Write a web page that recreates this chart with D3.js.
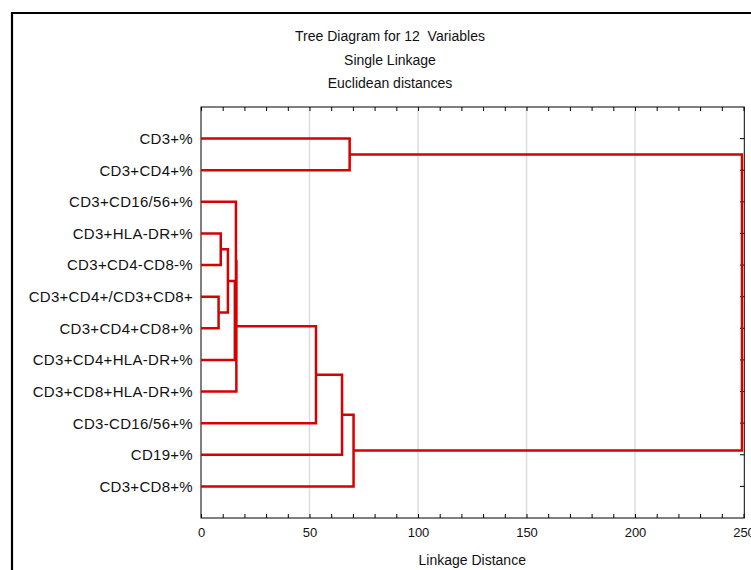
<!DOCTYPE html>
<html>
<head>
<meta charset="utf-8">
<script src="https://cdnjs.cloudflare.com/ajax/libs/d3/7.8.5/d3.min.js"></script>
<style>
  body { margin: 0; background: #fff; }
  svg { display: block; font-family: "Liberation Sans", Arial, sans-serif; }
  text { white-space: pre; }
</style>
</head>
<body>
<svg id="chart" width="751" height="570"></svg>
<script>
// leaves, top to bottom as shown
var leaves = ["CD3+%", "CD3+CD4+%", "CD3+CD16/56+%", "CD3+HLA-DR+%", "CD3+CD4-CD8-%",
  "CD3+CD4+/CD3+CD8+", "CD3+CD4+CD8+%", "CD3+CD4+HLA-DR+%", "CD3+CD8+HLA-DR+%",
  "CD3-CD16/56+%", "CD19+%", "CD3+CD8+%"];

// joins: ids 0..11 are leaves, each join gets id 12, 13, ...
var joinLeft   = [5, 3, 13, 14, 2, 16, 17, 18, 0, 19, 20];
var joinRight  = [6, 4, 12, 7, 15, 8, 9, 10, 1, 11, 21];
var joinHeight = [8.1, 9.1, 12.4, 15.6, 16.1, 16.3, 53.0, 65.0, 68.5, 70.3, 249.3];

var titleLines = ["Tree Diagram for 12  Variables", "Single Linkage", "Euclidean distances"];
var xTicks = d3.range(0, 251, 10);
var xLabels = [0, 50, 100, 150, 200, 250];
var xTitle = "Linkage Distance";

(function () {
  var svg = d3.select("#chart");
  var pLeft = 201, pRight = 743.5, pTop = 107, pBottom = 518;
  var red = "#d60000";

  var x = d3.scaleLinear().domain([0, 250]).range([pLeft, pRight]);
  var y = d3.scalePoint().domain(d3.range(leaves.length)).range([pTop, pBottom]).padding(1);

  // outer frame
  svg.append("path")
    .attr("d", "M12,575 V13 H760")
    .attr("fill", "none").attr("stroke", "#000").attr("stroke-width", 2.2);

  // titles
  svg.selectAll(".title").data(titleLines).enter().append("text")
    .attr("class", "title")
    .attr("x", 390).attr("y", function (d, i) { return 41 + i * 23.5; })
    .attr("text-anchor", "middle").attr("font-size", 14).attr("fill", "#111")
    .text(function (d) { return d; });

  // grid
  svg.selectAll(".grid").data([50, 100, 150, 200]).enter().append("line")
    .attr("x1", x).attr("x2", x).attr("y1", pTop).attr("y2", pBottom)
    .attr("stroke", "#dcdcdc").attr("stroke-width", 1.5);

  // frame of plot
  svg.append("rect")
    .attr("x", pLeft).attr("y", pTop).attr("width", x(250) - pLeft + 0.8).attr("height", pBottom - pTop)
    .attr("fill", "none").attr("stroke", "#000").attr("stroke-width", 1);

  // bottom axis
  var bottomAxis = svg.append("g").attr("transform", "translate(0," + pBottom + ")")
    .call(d3.axisBottom(x).tickValues(xTicks).tickSize(-4).tickPadding(10)
      .tickFormat(function (d) { return xLabels.indexOf(d) >= 0 ? d : ""; }));
  bottomAxis.select(".domain").remove();
  bottomAxis.selectAll("text").attr("font-size", 13).attr("fill", "#111")
    .attr("font-family", "'Liberation Sans', Arial, sans-serif");

  // top axis ticks
  var topAxis = svg.append("g").attr("transform", "translate(0," + pTop + ")")
    .call(d3.axisTop(x).tickValues(xTicks).tickSize(-4).tickFormat(""));
  topAxis.select(".domain").remove();

  // leaf ticks on left and right
  svg.selectAll(".ltick").data(d3.range(leaves.length)).enter().append("line")
    .attr("x1", pLeft).attr("x2", pLeft + 4).attr("y1", y).attr("y2", y).attr("stroke", "#000");
  svg.selectAll(".rtick").data(d3.range(leaves.length)).enter().append("line")
    .attr("x1", x(250) + 0.8).attr("x2", x(250) - 3.5).attr("y1", y).attr("y2", y).attr("stroke", "#000");

  // leaf labels
  svg.selectAll(".leaf").data(leaves).enter().append("text")
    .attr("x", 193).attr("y", function (d, i) { return y(i); }).attr("dy", "0.36em")
    .attr("text-anchor", "end").attr("font-size", 15).attr("letter-spacing", 0.3).attr("fill", "#111")
    .text(function (d) { return d; });

  // x title
  svg.append("text")
    .attr("x", (pLeft + pRight) / 2).attr("y", 565)
    .attr("text-anchor", "middle").attr("font-size", 14).attr("fill", "#111")
    .text(xTitle);

  // dendrogram
  var pos = leaves.map(function (d, i) { return { x: x(0), y: y(i) }; });
  var links = [];
  joinHeight.forEach(function (h, j) {
    var a = pos[joinLeft[j]], b = pos[joinRight[j]], xm = x(h);
    links.push("M" + a.x + "," + a.y + "H" + xm + "V" + b.y + "H" + b.x);
    pos.push({ x: xm, y: (a.y + b.y) / 2 });
  });
  svg.selectAll(".link").data(links).enter().append("path")
    .attr("d", function (d) { return d; })
    .attr("fill", "none").attr("stroke", red).attr("stroke-width", 2.5)
    .attr("stroke-linejoin", "miter");
})();
</script>
</body>
</html>
